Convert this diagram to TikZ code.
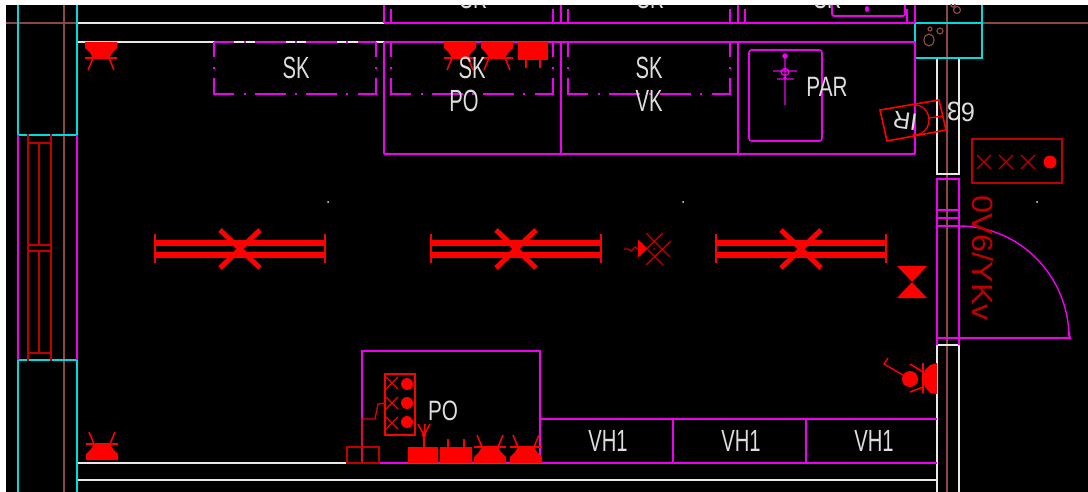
\documentclass[tikz,border=0pt]{standalone}
\usepackage{fontspec}
\setmainfont{Liberation Sans}
\definecolor{mag}{HTML}{F000F0}
\definecolor{cy}{HTML}{00DCDC}
\definecolor{brn}{HTML}{8A4A44}
\definecolor{wht}{HTML}{E8E8E8}
\definecolor{rd}{HTML}{FF0000}
\definecolor{drd}{HTML}{C00000}
\definecolor{txtc}{HTML}{DDDDDD}
\tikzset{
  mg/.style={draw=mag,line width=1.25pt},
  cn/.style={draw=cy,line width=1.25pt},
  br/.style={draw=brn,line width=1.25pt},
  wl/.style={draw=wht,line width=1.25pt},
  rl/.style={draw=rd,line width=1.15pt},
  dl/.style={draw=drd,line width=1.25pt},
  tx/.style={text=txtc,font=\fontsize{23}{23}\selectfont,inner sep=0pt,transform shape},
  lbl/.style={tx,xscale=.66},
  lum/.pic={
    \fill[rd] (-16,0)--(16,0)--(16,6)--(11,11)--(8,16)--(-8,16)--(-11,11)--(-16,6)--cycle;
    \draw[rl] (-16,16)--(16,16) (-8,16)--(-13,28) (8,16)--(13,28);
  },
  tube/.pic={
    \draw[rd,line width=4.2pt] (-85,-6)--(85,-6) (-85,6)--(85,6);
    \draw[rd,line width=1.5pt] (-85,-15)--(-85,14) (85,-15)--(85,14);
    \draw[rd,line width=3.8pt] (-20,-19)--(20,19) (20,-19)--(-20,19);
  }
}
\begin{document}
\begin{tikzpicture}[x=.75pt,y=-.75pt]
\useasboundingbox (0,0) rectangle (1088,492);
\fill[white] (0,0) rectangle (1088,492);
\fill[black] (6,5) rectangle (1088,492);
\begin{scope}
\clip (6,5) rectangle (1088,492);
% brown axes
\draw[br] (64,5)--(64,492) (947,5)--(947,492) (6,23)--(77,23) (982,23)--(1088,23);
% outer white walls
\draw[wl] (77,23)--(384,23) (77,42)--(384,42) (77,463)--(347,463) (77,480)--(937,480);
\draw[wl] (937,58)--(937,174)--(959,174)--(959,58);
\draw[wl] (937,492)--(937,345)--(959,345)--(959,492);
% cyan columns
\draw[cn] (18,5)--(18,135)--(77,135)--(77,5);
\draw[cn] (18,492)--(18,360)--(77,360)--(77,492);
\draw[cn] (915,58)--(915,23)--(982,23)--(982,58)--cycle (982,5)--(982,23);
% brown small circles
\draw[br,line width=.9pt] (929,40) ellipse (5 and 6) (940,31) circle (3) (930,29) circle (2) (957,10) circle (3.5) (953,5) circle (2);
% window
\draw[mg] (18,135)--(18,360) (77,135)--(77,360);
\draw[dl] (28,134)--(28,361) (51,134)--(51,361) (28,143)--(51,143) (28,245)--(51,245) (28,251)--(51,251) (28,353)--(51,353) (39,143)--(39,245) (39,251)--(39,353);
% magenta cupboards
\draw[mg] (384,23)--(915,23) (384,42)--(915,42) (384,154)--(915,154);
\draw[mg] (384,42)--(384,154) (561,42)--(561,154) (738,42)--(738,154) (915,42)--(915,154);
\draw[mg] (384,5)--(384,23) (561,5)--(561,23) (738,5)--(738,23) (915,5)--(915,23);
\draw[mg] (391,9)--(391,23) (553,9)--(553,23) (568,9)--(568,23) (730,9)--(730,23) (745,9)--(745,23) (907,9)--(907,23);
\foreach \d in {0,177,354}{
  \draw[mg] (214+\d,42)--(214+\d,57) (376+\d,42)--(376+\d,57) (214+\d,78)--(214+\d,94)--(234+\d,94)
    (255+\d,94)--(286+\d,94) (306+\d,94)--(337+\d,94) (358+\d,94)--(376+\d,94)--(376+\d,78)
    (245+\d-1,94)--(245+\d+1,94) (296+\d-1,94)--(296+\d+1,94) (347+\d-1,94)--(347+\d+1,94)
    (214+\d,67)--(214+\d,69) (376+\d,67)--(376+\d,69)
    (214+\d,42)--(234+\d,42) (255+\d,42)--(286+\d,42) (306+\d,42)--(337+\d,42) (358+\d,42)--(376+\d,42)
    (245+\d-1,42)--(245+\d+1,42) (296+\d-1,42)--(296+\d+1,42) (347+\d-1,42)--(347+\d+1,42);
}
\draw[rounded corners=1.5pt,mg] (832,5)--(832,16)--(905,16)--(905,5);
\fill[mag] (867,9) ellipse (2.2 and 3);
% PAR box
\draw[mg,rounded corners=2pt] (749,50) rectangle (822,141);
\draw[mg,line width=.9pt] (785,56)--(785,105) (773,71)--(797,71) (777,79)--(794,79) (785,72) ellipse (4 and 3.5);
\fill[mag] (785,56) circle (2.8) (785,78) circle (1.8);
% wall right magenta
\draw[mg] (937,345)--(937,179)--(959,179)--(959,345) (937,210)--(959,210) (937,218)--(959,218) (937,226)--(959,226);
\draw[mg] (937,338)--(1070,338)--(1069,332);
\draw[mg,line width=1.05pt] (959,226) arc (-90:0:110 and 112);
% PO box
\draw[mg] (362,463)--(362,351)--(540,351)--(540,463);
\draw[mg] (379,463)--(937,463) (540,419)--(937,419) (673,419)--(673,463) (806,419)--(806,463);
% white dots
\fill[wht] (328,202) circle (1) (683,202) circle (1) (1037,202) circle (1);
% luminaires
\pic at (240,249) {tube};
\pic at (516,249) {tube};
\pic at (801,249) {tube};
\pic at (101,42) {lum};
\pic at (460,42) {lum};
\pic at (497,42) {lum};
\pic[yscale=-1] at (102,460) {lum};
\pic[yscale=-1] at (490,463) {lum};
\pic[yscale=-1] at (526,463) {lum};
% square lamps
\fill[rd] (518,42) rectangle (548,60);
\draw[rl] (526,60)--(526,68) (540,60)--(540,68);
\fill[rd] (408,447) rectangle (438,463) (440,447) rectangle (472,463);
\draw[rl] (448,439)--(448,447) (464,439)--(464,447);
\draw[rl] (424,447)--(424,435) (424,435)--(418,424) (424,435)--(425,424) (424,435)--(430,424);
\fill[rd] (424,435) circle (2.2);
% panel
\draw[rl] (385,374) rectangle (415,435);
\foreach \yy in {383,403,423}{
  \draw[rl,line width=.9pt] (386,\yy-6)--(398,\yy+6) (398,\yy-6)--(386,\yy+6);
}
\fill[rd] (407,384) circle (6) (407,403) circle (6) (407,422) circle (6);
\draw[dl] (347,447) rectangle (379,463);
\draw[draw=rd!85!black,line width=1.05pt] (362,463)--(362,419)--(375,419)--(378,404)--(385,403);
% emergency
\draw[draw=drd,line width=1pt] (646,233)--(670,257) (638,240)--(663,265) (663,233)--(638,257) (671,241)--(646,265);
\fill[rd] (638,240)--(638,257)--(647,249)--cycle;
\fill[drd] (654,249) circle (1);
\draw[draw=drd,line width=1pt] (624,249)--(628,249)--(631,251)--(635,247)--(638,249);
% bowtie
\fill[rd] (897,266)--(927,266)--(912,282)--(927,298)--(897,298)--(912,282)--cycle;
% right panel
\draw[dl] (972,139) rectangle (1062,183);
\foreach \xx in {984,1006,1028}{
  \draw[dl,line width=.9pt] (\xx-7,155)--(\xx+7,169) (\xx+7,155)--(\xx-7,169);
}
\fill[rd] (1050,162) circle (6.5);
% wall lamp
\fill[rd] (937,363)--(937,394)--(930,393)--(925,387)--(922,379)--(925,370)--(930,365)--cycle;
\draw[rl] (923,363)--(923,393) (923,372)--(910,364) (923,387)--(910,392);
\fill[rd] (910,379) circle (8);
\draw[draw=rd,line width=1pt] (903,375)--(884,364)--(888,358);
% IR tag
\draw[draw=rd,line width=1.2pt] (880,110)--(939,100)--(946,130)--(887,141)--cycle;
\draw[draw=rd,line width=1pt] (915,105) arc (-90:100:14 and 15) (929,118)--(943,116);
\fill[rd] (915,105) circle (1.6);
% labels
\node[lbl] (sk1) at (296,68) {SK};
\node[lbl] (sk2) at (472,68) {SK};
\node[lbl] (sk3) at (649,68) {SK};
\node[lbl] (po1) at (464,101) {PO};
\node[lbl] (vk1) at (649,101) {VK};
\node[tx,font=\fontsize{21}{21}\selectfont,xscale=.74] (par) at (827,86.5) {PAR};
\node[tx,font=\fontsize{21}{21}\selectfont,xscale=.74] (po2) at (443,411) {PO};
\node[lbl] (vh1) at (608,441) {VH1};
\node[lbl] (vh2) at (741,441) {VH1};
\node[lbl] (vh3) at (874,441) {VH1};
\node[lbl] (tsk1) at (473,-2) {SK};
\node[lbl] (tsk2) at (650,-2) {SK};
\node[lbl] (tsk3) at (827,-2) {SK};
\node[tx,font=\fontsize{18}{18}\selectfont,rotate=172,xscale=1] (ir) at (905,121) {IR};
\node[tx,font=\fontsize{20}{20}\selectfont,rotate=178,xscale=.95] (num) at (961,112) {63};
\node[tx,text=drd,font=\fontsize{22}{22}\selectfont,rotate=-90,xscale=1.1] (cable) at (983,258) {0V6/YKv};
\end{scope}
\end{tikzpicture}
\end{document}
